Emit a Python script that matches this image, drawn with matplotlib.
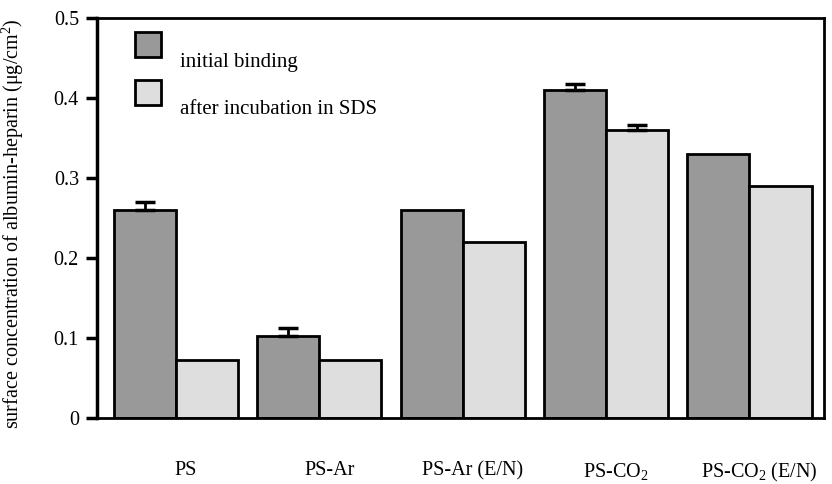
import matplotlib
matplotlib.use("Agg")
import matplotlib.pyplot as plt
import numpy as np
from matplotlib.patches import Rectangle

categories = ["PS", "PS-Ar", "PS-Ar (E/N)", "PS-CO$_2$", "PS-CO$_2$ (E/N)"]
initial = [0.26, 0.103, 0.26, 0.41, 0.33]
initial_err = [0.01, 0.01, 0.0, 0.007, 0.0]
after_sds = [0.073, 0.073, 0.22, 0.36, 0.29]
after_err = [0.0, 0.0, 0.0, 0.006, 0.0]
series_names = ["initial binding", "after incubation in SDS"]
yticks = [0, 0.1, 0.2, 0.3, 0.4, 0.5]
ytick_labels = ["0", "0.1", "0.2", "0.3", "0.4", "0.5"]
ylabel = "surface concentration of albumin-heparin (μg/cm$^2$)"

plt.rcParams['font.family'] = ['Liberation Serif', 'DejaVu Serif']
plt.rcParams['mathtext.fontset'] = 'custom'
plt.rcParams['mathtext.rm'] = 'Liberation Serif'
plt.rcParams['mathtext.it'] = 'Liberation Serif:italic'

dark = "#999999"
light = "#dedede"

fig = plt.figure(figsize=(8.32, 4.84), dpi=100)
ax = fig.add_axes([97/832, 1-418/484, 727/832, 400/484])

x = np.arange(len(categories))
w = 0.433
ax.bar(x - w/2, initial, width=w, color=dark, edgecolor="black", linewidth=2, zorder=2)
ax.bar(x + w/2, after_sds, width=w, color=light, edgecolor="black", linewidth=2, zorder=2)

ekw = dict(fmt='none', elinewidth=2, capthick=2.5, capsize=7.5, ecolor="black", zorder=3)
ie = np.array(initial_err)
m = ie > 0
ax.errorbar((x - w/2)[m], np.array(initial)[m], yerr=[np.zeros(m.sum()), ie[m]], **ekw)
ae = np.array(after_err)
m = ae > 0
ax.errorbar((x + w/2)[m], np.array(after_sds)[m], yerr=[np.zeros(m.sum()), ae[m]], **ekw)

ax.set_xlim(-0.55, 4.52)
ax.set_ylim(0, 0.5)
ax.set_yticks(yticks)
ax.set_yticklabels(ytick_labels, fontsize=14.5)
ax.set_xticks(x + 0.07)
ax.set_xticklabels(categories, fontsize=14.5)
ax.tick_params(axis='x', length=0, pad=31)
ax.tick_params(axis='y', length=8, width=2.5, pad=5, direction='out')
for s in ax.spines.values():
    s.set_linewidth(2)
ax.spines['left'].set_linewidth(2.5)

ax.set_ylabel(ylabel, fontsize=14.5)
ax.yaxis.set_label_coords(-0.098, 0.485)

# legend (manual layout)
ax.add_patch(Rectangle((0.052, 0.9025), 0.0358, 0.0625, transform=ax.transAxes,
                       facecolor=dark, edgecolor="black", linewidth=2, zorder=3))
ax.add_patch(Rectangle((0.052, 0.7825), 0.0358, 0.0625, transform=ax.transAxes,
                       facecolor=light, edgecolor="black", linewidth=2, zorder=3))
ax.text(0.114, 0.89, series_names[0], transform=ax.transAxes, fontsize=15, va='center')
ax.text(0.114, 0.77, series_names[1], transform=ax.transAxes, fontsize=15, va='center')

fig.savefig("out.png", dpi=100)
